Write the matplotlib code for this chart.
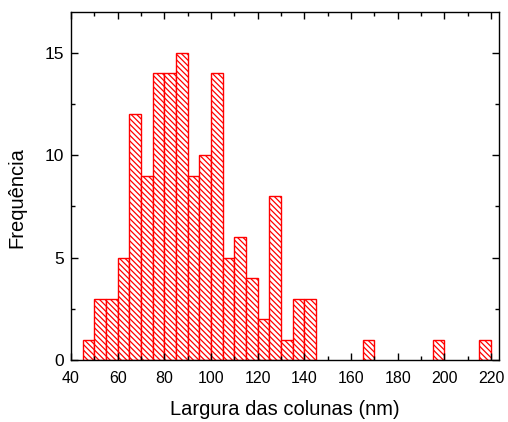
import matplotlib
matplotlib.use("Agg")
import matplotlib.pyplot as plt
import numpy as np

plt.rcParams['font.family'] = ['Liberation Sans', 'DejaVu Sans']
plt.rcParams['hatch.linewidth'] = 0.9
plt.rcParams['hatch.color'] = 'red'

bin_left = [45, 50, 55, 60, 65, 70, 75, 80, 85, 90, 95, 100, 105, 110, 115, 120,
            125, 130, 135, 140, 165, 195, 215]
counts = [1, 3, 3, 5, 12, 9, 14, 14, 15, 9, 10, 14, 5, 6, 4, 2,
          8, 1, 3, 3, 1, 1, 1]
bin_width = 5

fig = plt.figure(figsize=(5.08, 4.22), dpi=100)
ax = fig.add_axes([0.1398, 0.1469, 0.8425, 0.8247])
ax.bar(bin_left, counts, width=bin_width, align='edge', facecolor='white',
       edgecolor='red', linewidth=1.0, hatch='\\' * 6)

ax.set_xlim(40, 223.4)
ax.set_ylim(0, 17)
ax.set_xticks(np.arange(40, 221, 20))
ax.set_xticks(np.arange(50, 221, 20), minor=True)
ax.set_yticks([0, 5, 10, 15])
ax.set_yticks([2.5, 7.5, 12.5], minor=True)
ax.tick_params(which='both', direction='in', top=True, right=True)
ax.tick_params(axis='x', labelsize=11.5)
ax.tick_params(axis='y', labelsize=12.5)
ax.tick_params(which='major', length=5, width=1)
ax.tick_params(which='minor', length=3, width=1)
ax.tick_params(axis='x', which='major', pad=8)
ax.tick_params(axis='y', which='major', pad=5)
for s in ax.spines.values():
    s.set_linewidth(1.0)
ax.set_xlabel('Largura das colunas (nm)', fontsize=14.5)
ax.set_ylabel('Frequência', fontsize=14.5)
ax.xaxis.set_label_coords(0.5, -0.115)
ax.yaxis.set_label_coords(-0.105, 0.466)

fig.savefig('out.png', dpi=100)
